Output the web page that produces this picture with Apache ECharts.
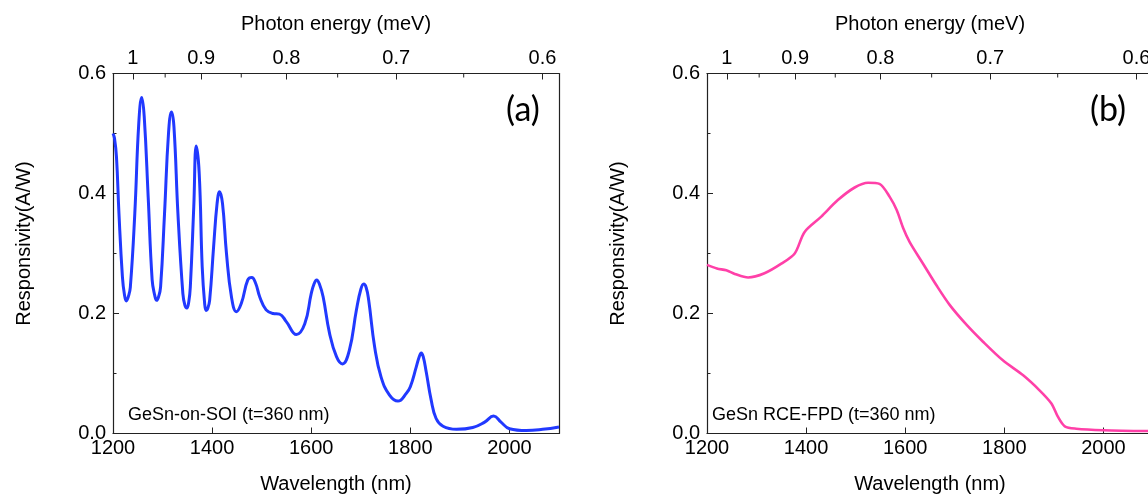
<!DOCTYPE html>
<html>
<head>
<meta charset="utf-8">
<script src="https://cdn.jsdelivr.net/npm/echarts@6/dist/echarts.min.js"></script>
<style>html,body{margin:0;padding:0;background:#fff;}#c{width:1148px;height:494px;}</style>
</head>
<body>
<div id="c"></div>
<script>
// Panel (a): GeSn-on-SOI
const wavelengthA = [1200,1203,1207,1212,1219,1223,1227,1231,1235,1244,1252,1258,1263,1271,1279,1284,1288,1292,1296,1304,1312,1318,1323,1331,1341,1345,1349,1353,1356,1363,1368,1374,1380,1385,1388,1391,1395,1403,1410,1415,1421,1429,1439,1449,1459,1472,1480,1488,1496,1509,1523,1536,1550,1570,1587,1600,1606,1611,1617,1624,1637,1651,1663,1677,1691,1700,1706,1711,1716,1728,1741,1758,1775,1792,1800,1812,1818,1822,1826,1832,1842,1852,1866,1893,1926,1950,1968,1983,2000,2034,2067,2100];
const respA = [0.500,0.492,0.461,0.367,0.261,0.232,0.221,0.228,0.244,0.367,0.517,0.560,0.528,0.394,0.256,0.231,0.222,0.228,0.244,0.367,0.500,0.536,0.511,0.367,0.233,0.214,0.209,0.220,0.244,0.378,0.479,0.433,0.278,0.216,0.205,0.208,0.222,0.311,0.383,0.403,0.383,0.300,0.228,0.203,0.217,0.256,0.260,0.250,0.228,0.206,0.200,0.199,0.186,0.165,0.183,0.233,0.250,0.256,0.248,0.228,0.167,0.128,0.116,0.139,0.205,0.240,0.249,0.243,0.222,0.144,0.094,0.064,0.054,0.067,0.078,0.111,0.128,0.134,0.128,0.103,0.056,0.025,0.012,0.007,0.010,0.019,0.029,0.019,0.008,0.005,0.007,0.011];
// Panel (b): GeSn RCE-FPD
const wavelengthB = [1200,1220,1239,1256,1283,1316,1350,1377,1397,1430,1464,1498,1525,1548,1569,1583,1596,1609,1636,1663,1690,1724,1757,1797,1838,1871,1895,1908,1922,1945,2000,2100];
const respB = [0.281,0.275,0.272,0.266,0.260,0.267,0.283,0.300,0.336,0.361,0.389,0.410,0.418,0.416,0.394,0.372,0.342,0.319,0.283,0.247,0.214,0.181,0.153,0.122,0.097,0.072,0.050,0.028,0.012,0.008,0.0055,0.004];
// Top axis: photon energy ticks
const energyMajor = [1, 0.9, 0.8, 0.7, 0.6];
const energyMinor = [0.95, 0.85, 0.75, 0.65];
const wlTicks = [1200, 1400, 1600, 1800, 2000];
const hc = 1240;

const FONT = "'Liberation Sans', Arial, sans-serif";
const AX = '#222';
const toWl = e => hc / e;
function pair(xs, ys){ return xs.map((x,i)=>[x, ys[i]]); }

function bottomAxis(g){
  return {type:'value', gridIndex:g, position:'bottom', min:1200, max:2100, interval:200,
    axisLine:{show:true, onZero:false, lineStyle:{color:AX, width:1.2}},
    axisTick:{show:true, inside:true, length:6, customValues: wlTicks, lineStyle:{color:AX}},
    axisLabel:{customValues: wlTicks, color:'#000', fontSize:20, fontFamily:FONT, margin:5, formatter: v => String(v)},
    splitLine:{show:false},
    name:'Wavelength (nm)', nameLocation:'middle', nameGap:41,
    nameTextStyle:{color:'#000', fontSize:20, fontFamily:FONT}};
}
function topAxis(g){
  return {type:'value', gridIndex:g, position:'top', min:1200, max:2100,
    axisLine:{show:true, onZero:false, lineStyle:{color:AX, width:1.2}},
    axisTick:{show:true, inside:true, length:6, customValues: energyMajor.map(toWl), lineStyle:{color:AX}},
    axisLabel:{customValues: energyMajor.map(toWl), color:'#000', fontSize:20, fontFamily:FONT, margin:5,
      formatter: v => String(Math.round(hc / v * 10) / 10)},
    splitLine:{show:false},
    name:'Photon energy (meV)', nameLocation:'middle', nameGap:39,
    nameTextStyle:{color:'#000', fontSize:20, fontFamily:FONT}};
}
function leftAxis(g){
  return {type:'value', gridIndex:g, position:'left', min:0, max:0.6, interval:0.2,
    axisLine:{show:true, onZero:false, lineStyle:{color:AX, width:1.2}},
    axisTick:{show:true, inside:true, length:6, lineStyle:{color:AX}},
    minorTick:{show:true, splitNumber:2, length:3.5, lineStyle:{color:AX}},
    axisLabel:{color:'#000', fontSize:20, fontFamily:FONT, margin:7, formatter: v => v.toFixed(1)},
    splitLine:{show:false}, minorSplitLine:{show:false},
    name:'Responsivity(A/W)', nameLocation:'middle', nameGap:79, nameRotate:90,
    nameTextStyle:{color:'#000', fontSize:20, fontFamily:FONT, padding:[0,0,0,20]}};
}
function rightAxis(g){
  return {type:'value', gridIndex:g, position:'right', min:0, max:0.6,
    axisLine:{show:true, onZero:false, lineStyle:{color:AX, width:1.2}},
    axisTick:{show:false}, axisLabel:{show:false}, splitLine:{show:false}};
}
function minorTopTicks(xi, yi){
  return {type:'custom', xAxisIndex:xi, yAxisIndex:yi, silent:true, clip:false, z:5,
    data: energyMinor.map(e => [toWl(e), 0.6]),
    renderItem:(params, api) => {
      const p = api.coord([api.value(0), api.value(1)]);
      return {type:'line', shape:{x1:p[0], y1:p[1], x2:p[0], y2:p[1] + 4}, style:{stroke:AX, lineWidth:1}};
    }};
}

const chart = echarts.init(document.getElementById('c'));
chart.setOption({
  animation:false,
  backgroundColor:'#fff',
  grid:[
    {left:113, top:73.5, width:446, height:360, containLabel:false, outerBoundsMode:'none'},
    {left:707, top:73.5, width:446, height:360, containLabel:false, outerBoundsMode:'none'}
  ],
  xAxis:[bottomAxis(0), topAxis(0), bottomAxis(1), topAxis(1)],
  yAxis:[leftAxis(0), rightAxis(0), leftAxis(1), rightAxis(1)],
  series:[
    {type:'line', xAxisIndex:0, yAxisIndex:0, data:pair(wavelengthA, respA), smooth:0.45,
      showSymbol:false, lineStyle:{color:'#2139ff', width:3}},
    {type:'line', xAxisIndex:2, yAxisIndex:2, data:pair(wavelengthB, respB), smooth:0.3,
      showSymbol:false, lineStyle:{color:'#ff40a8', width:2.6}},
    minorTopTicks(0, 0),
    minorTopTicks(2, 2)
  ],
  graphic:[
    {type:'text', x:523, y:110, style:{text:'(a)', font:"34px Lato, 'Open Sans', sans-serif", fill:'#000', align:'center', verticalAlign:'middle'}},
    {type:'text', x:1108, y:110, style:{text:'(b)', font:"34px Lato, 'Open Sans', sans-serif", fill:'#000', align:'center', verticalAlign:'middle'}},
    {type:'text', x:128, y:415, style:{text:'GeSn-on-SOI (t=360 nm)', font:"18px 'Liberation Sans', Arial, sans-serif", fill:'#000', align:'left', verticalAlign:'middle'}},
    {type:'text', x:712, y:415, style:{text:'GeSn RCE-FPD (t=360 nm)', font:"18px 'Liberation Sans', Arial, sans-serif", fill:'#000', align:'left', verticalAlign:'middle'}}
  ]
});
</script>
</body>
</html>
